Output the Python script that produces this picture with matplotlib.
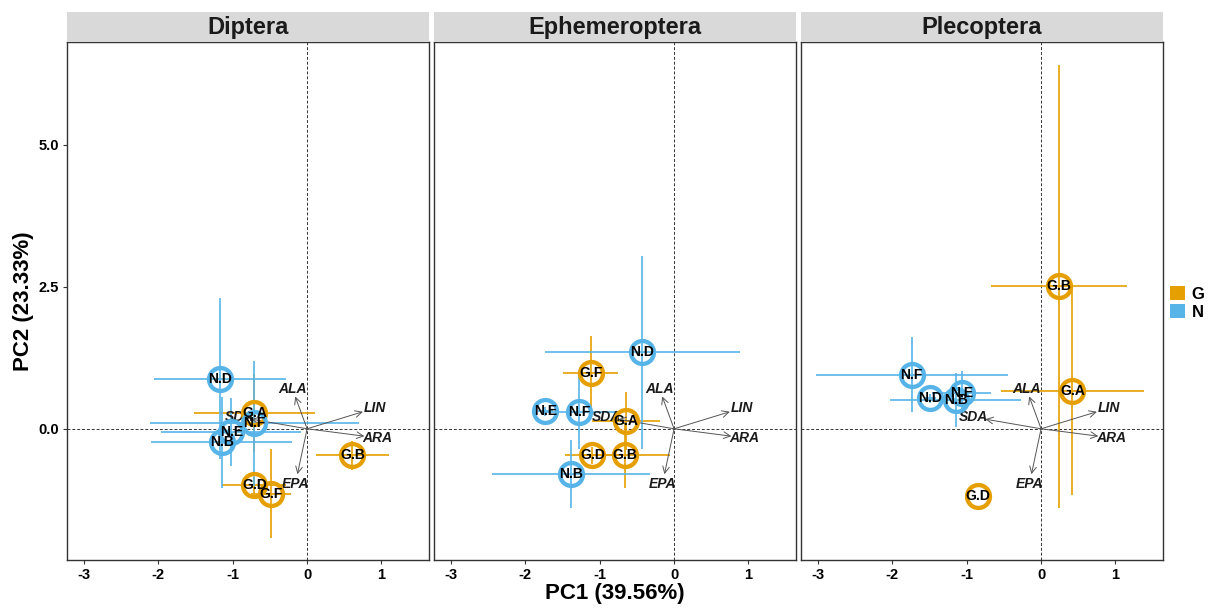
import matplotlib
matplotlib.use("Agg")
import matplotlib.pyplot as plt
from matplotlib.patches import Patch

plt.rcParams["font.family"] = ["Liberation Sans", "DejaVu Sans"]

# ---- data ---------------------------------------------------------------
taxa = ["Diptera", "Ephemeroptera", "Plecoptera"]
sites = ["G.A", "G.B", "G.D", "G.F", "N.B", "N.D", "N.E", "N.F"]
site_group = ["G", "G", "G", "G", "N", "N", "N", "N"]

diptera_pc1 = [-0.71, 0.61, -0.71, -0.48, -1.15, -1.17, -1.02, -0.71]
diptera_pc2 = [0.28, -0.47, -0.99, -1.14, -0.24, 0.88, -0.05, 0.10]
diptera_pc1_sd = [0.81, 0.49, 0.43, 0.27, 0.95, 0.89, 0.94, 1.41]
diptera_pc2_sd = [0.69, 0.25, 0.15, 0.78, 0.80, 1.42, 0.60, 1.10]

ephem_pc1 = [-0.65, -0.66, -1.10, -1.12, -1.39, -0.43, -1.73, -1.28]
ephem_pc2 = [0.13, -0.47, -0.47, 0.98, -0.79, 1.35, 0.31, 0.30]
ephem_pc1_sd = [0.46, 0.60, 0.37, 0.37, 1.06, 1.31, 0.10, 0.48]
ephem_pc2_sd = [0.51, 0.57, 0.15, 0.65, 0.60, 1.70, 0.08, 0.65]

pleco_sites = ["G.A", "G.B", "G.D", "N.B", "N.D", "N.E", "N.F"]
pleco_group = ["G", "G", "G", "N", "N", "N", "N"]
pleco_pc1 = [0.42, 0.24, -0.85, -1.15, -1.49, -1.07, -1.74]
pleco_pc2 = [0.67, 2.51, -1.19, 0.51, 0.54, 0.63, 0.95]
pleco_pc1_sd = [0.96, 0.92, 0.0, 0.88, 0.08, 0.40, 1.29]
pleco_pc2_sd = [1.83, 3.90, 0.0, 0.47, 0.08, 0.38, 0.66]

traits = ["ALA", "LIN", "ARA", "EPA", "SDA"]
loading_pc1 = [-0.16, 0.75, 0.77, -0.13, -0.75]
loading_pc2 = [0.57, 0.30, -0.13, -0.80, 0.17]

x_ticks = [-3, -2, -1, 0, 1]
y_ticks = [0.0, 2.5, 5.0]
y_ticklabels = ["0.0", "2.5", "5.0"]

group_colors = {"G": "#E69F00", "N": "#56B4E9"}

panels = [
    (sites, site_group, diptera_pc1, diptera_pc2, diptera_pc1_sd, diptera_pc2_sd),
    (sites, site_group, ephem_pc1, ephem_pc2, ephem_pc1_sd, ephem_pc2_sd),
    (pleco_sites, pleco_group, pleco_pc1, pleco_pc2, pleco_pc1_sd, pleco_pc2_sd),
]

# ---- layout -------------------------------------------------------------
W, H = 1215, 610
fig = plt.figure(figsize=(W / 100, H / 100), dpi=100)
fig.patch.set_facecolor("white")

lefts = [67, 434, 801]
pw = 362
top_px, bot_px, strip_px = 42, 560, 30

for i, (labs, grp, px, py, sx, sy) in enumerate(panels):
    ax = fig.add_axes([lefts[i] / W, (H - bot_px) / H, pw / W, (bot_px - top_px) / H])
    ax.set_xlim(-3.23, 1.64)
    ax.set_ylim(-2.31, 6.81)
    ax.set_facecolor("white")

    ax.axhline(0, color="#333333", lw=0.7, ls=(0, (3, 2)), zorder=1)
    ax.axvline(0, color="#333333", lw=0.7, ls=(0, (3, 2)), zorder=1)

    # error bars
    for lab, g, x, y, ex, ey in zip(labs, grp, px, py, sx, sy):
        c = group_colors[g]
        if ex > 0:
            ax.plot([x - ex, x + ex], [y, y], color=c, lw=1.2, zorder=2,
                    solid_capstyle="butt")
        if ey > 0:
            ax.plot([x, x], [y - ey, y + ey], color=c, lw=1.2, zorder=2,
                    solid_capstyle="butt")

    # trait loading arrows
    for t, lx, ly in zip(traits, loading_pc1, loading_pc2):
        ax.annotate("", xy=(lx, ly), xytext=(0, 0),
                    arrowprops=dict(arrowstyle="->", color="#555555", lw=0.7,
                                    mutation_scale=12, shrinkA=0, shrinkB=0),
                    zorder=3)
        ax.text(lx * 1.22, ly * 1.22, t, ha="center", va="center",
                fontsize=10, fontstyle="italic", fontweight="bold",
                color="#1a1a1a", zorder=4)

    # site rings
    for lab, g, x, y in zip(labs, grp, px, py):
        ax.plot(x, y, "o", ms=16.5, mfc="none", mec=group_colors[g],
                mew=3.1, zorder=5)
    for lab, g, x, y in zip(labs, grp, px, py):
        ax.text(x, y, lab, ha="center", va="center", fontsize=10,
                fontweight="bold", color="black", zorder=6)

    ax.set_xticks(x_ticks)
    ax.set_xticklabels([str(v) for v in x_ticks])
    ax.set_yticks(y_ticks)
    if i == 0:
        ax.set_yticklabels(y_ticklabels)
    else:
        ax.tick_params(axis="y", left=False, labelleft=False)
    ax.tick_params(axis="both", length=3, width=0.8, color="#333333",
                   labelsize=10.5, pad=3)
    for lbl in ax.get_xticklabels() + ax.get_yticklabels():
        lbl.set_fontweight("bold")
        lbl.set_color("black")
    for sp in ax.spines.values():
        sp.set_color("#333333")
        sp.set_linewidth(1.0)

    # facet strip
    sax = fig.add_axes([lefts[i] / W, (H - top_px) / H, pw / W, strip_px / H])
    sax.set_facecolor("#D9D9D9")
    sax.set_xticks([])
    sax.set_yticks([])
    for sp in sax.spines.values():
        sp.set_visible(False)
    sax.text(0.5, 0.47, taxa[i], ha="center", va="center", fontsize=17,
             fontweight="bold", color="#1a1a1a", transform=sax.transAxes)

fig.text((67 + 1163) / 2 / W, 1 - 594 / H, "PC1 (39.56%)", ha="center",
         va="center", fontsize=16, fontweight="bold")
fig.text(24 / W, 1 - 301 / H, "PC2 (23.33%)", ha="center", va="center",
         rotation=90, fontsize=16, fontweight="bold")

handles = [Patch(facecolor=group_colors[g], edgecolor="none") for g in ["G", "N"]]
fig.legend(handles, ["G", "N"], loc="center left",
           bbox_to_anchor=(1170 / W, 1 - 303 / H), frameon=False,
           prop=dict(weight="bold", size=12), handlelength=0.9,
           handleheight=0.9, handletextpad=0.4, labelspacing=0.15,
           borderaxespad=0, borderpad=0)

fig.savefig("out.png", dpi=100)
